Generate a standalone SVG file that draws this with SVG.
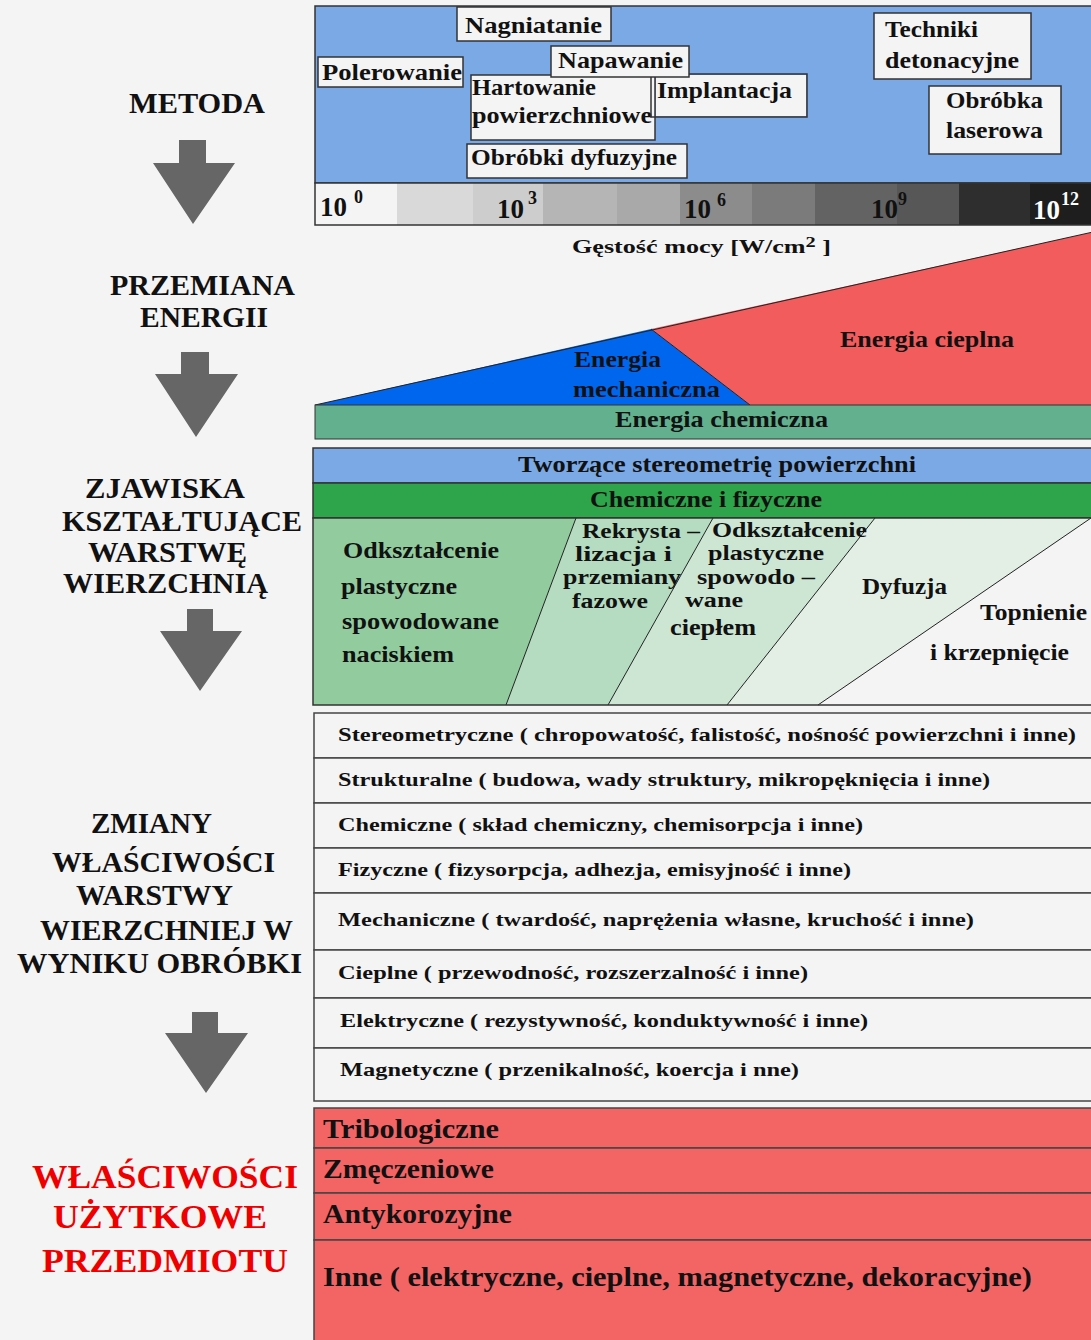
<svg xmlns="http://www.w3.org/2000/svg" width="1091" height="1340" viewBox="0 0 1091 1340" font-family="'Liberation Serif', Tinos, 'Times New Roman', serif">
<style>
text{font-family:"Liberation Serif",Tinos,"Times New Roman",serif;font-weight:bold;fill:#111}
.lbl{font-size:29px}
.red{font-size:34px;fill:#ee0000}
.m{font-size:24px}
.sc{font-size:27px}
.sup{font-size:18px}
.e{font-size:24px}
.z{font-size:23px}
.zs{font-size:20px}
.p{font-size:19px}
.r{font-size:27px}
.box{fill:#f4f4f4;stroke:#333;stroke-width:1.5}
.row{fill:#f4f4f4;stroke:#444;stroke-width:1.5}
.rrow{fill:#f36565;stroke:#444;stroke-width:1.5}
.arr{fill:#666}
.ln{stroke:#222;stroke-width:1;fill:none}
</style>
<rect width="1091" height="1340" fill="#f4f4f4"/>

<g id="left-labels">
<text class="lbl" x="129" y="113" textLength="136" lengthAdjust="spacingAndGlyphs">METODA</text>
<text class="lbl" x="110" y="295" textLength="185" lengthAdjust="spacingAndGlyphs">PRZEMIANA</text>
<text class="lbl" x="140" y="327" textLength="128" lengthAdjust="spacingAndGlyphs">ENERGII</text>
<text class="lbl" x="85" y="498" textLength="160" lengthAdjust="spacingAndGlyphs">ZJAWISKA</text>
<text class="lbl" x="62" y="531" textLength="240" lengthAdjust="spacingAndGlyphs">KSZTAŁTUJĄCE</text>
<text class="lbl" x="88" y="562" textLength="159" lengthAdjust="spacingAndGlyphs">WARSTWĘ</text>
<text class="lbl" x="63" y="593" textLength="205" lengthAdjust="spacingAndGlyphs">WIERZCHNIĄ</text>
<text class="lbl" x="91" y="833" textLength="121" lengthAdjust="spacingAndGlyphs">ZMIANY</text>
<text class="lbl" x="52" y="872" textLength="223" lengthAdjust="spacingAndGlyphs">WŁAŚCIWOŚCI</text>
<text class="lbl" x="76" y="905" textLength="157" lengthAdjust="spacingAndGlyphs">WARSTWY</text>
<text class="lbl" x="40" y="940" textLength="253" lengthAdjust="spacingAndGlyphs">WIERZCHNIEJ W</text>
<text class="lbl" x="17" y="973" textLength="285" lengthAdjust="spacingAndGlyphs">WYNIKU OBRÓBKI</text>
<text class="red" x="32" y="1188" textLength="266" lengthAdjust="spacingAndGlyphs">WŁAŚCIWOŚCI</text>
<text class="red" x="53" y="1228" textLength="214" lengthAdjust="spacingAndGlyphs">UŻYTKOWE</text>
<text class="red" x="42" y="1272" textLength="246" lengthAdjust="spacingAndGlyphs">PRZEDMIOTU</text>
</g>

<g id="connectors">
<polygon class="arr" points="179,140 206,140 206,163 235,163 193,224 153,163 179,163"/>
<polygon class="arr" points="181,352 209,352 209,374 238,374 196,437 155,374 181,374"/>
<polygon class="arr" points="187,609 213,609 213,631 242,631 200,691 160,631 187,631"/>
<polygon class="arr" points="192,1012 218,1012 218,1033 248,1033 206,1093 165,1033 192,1033"/>
</g>

<g id="metoda">
<rect x="315" y="6" width="778" height="177" fill="#7aa9e6" stroke="#333" stroke-width="1.5"/>
<g id="m-nagniatanie"><rect class="box" x="457" y="7" width="154" height="34"/><text class="m" x="465" y="33" textLength="137" lengthAdjust="spacingAndGlyphs">Nagniatanie</text></g>
<g id="m-polerowanie"><rect class="box" x="318" y="57" width="145" height="30"/><text class="m" x="322" y="80" textLength="140" lengthAdjust="spacingAndGlyphs">Polerowanie</text></g>
<g id="m-hartowanie"><rect class="box" x="471" y="75" width="184" height="65"/><text class="m" x="472" y="95" textLength="124" lengthAdjust="spacingAndGlyphs">Hartowanie</text><text class="m" x="472" y="123" textLength="180" lengthAdjust="spacingAndGlyphs">powierzchniowe</text></g>
<g id="m-implantacja"><rect class="box" x="651" y="74" width="156" height="43" style="fill:none"/><rect x="656" y="75" width="150" height="41" fill="#f4f4f4"/><text class="m" x="657" y="98" textLength="135" lengthAdjust="spacingAndGlyphs">Implantacja</text></g>
<g id="m-napawanie"><rect class="box" x="551" y="46" width="138" height="31"/><text class="m" x="558" y="68" textLength="125" lengthAdjust="spacingAndGlyphs">Napawanie</text></g>
<g id="m-dyfuzyjne"><rect class="box" x="467" y="144" width="220" height="34"/><text class="m" x="471" y="165" textLength="206" lengthAdjust="spacingAndGlyphs">Obróbki dyfuzyjne</text></g>
<g id="m-techniki"><rect class="box" x="874" y="13" width="157" height="66"/><text class="m" x="885" y="37" textLength="93" lengthAdjust="spacingAndGlyphs">Techniki</text><text class="m" x="885" y="68" textLength="134" lengthAdjust="spacingAndGlyphs">detonacyjne</text></g>
<g id="m-laser"><rect class="box" x="929" y="86" width="132" height="68"/><text class="m" x="946" y="108" textLength="97" lengthAdjust="spacingAndGlyphs">Obróbka</text><text class="m" x="946" y="138" textLength="97" lengthAdjust="spacingAndGlyphs">laserowa</text></g>
</g>

<g id="scale">
<rect x="315" y="183" width="82" height="42" fill="#f4f4f4"/>
<rect x="397" y="183" width="76" height="42" fill="#d9d9d9"/>
<rect x="473" y="183" width="70" height="42" fill="#cdcdcd"/>
<rect x="543" y="183" width="74" height="42" fill="#b5b5b5"/>
<rect x="617" y="183" width="63" height="42" fill="#a9a9a9"/>
<rect x="680" y="183" width="72" height="42" fill="#8c8c8c"/>
<rect x="752" y="183" width="63" height="42" fill="#7b7b7b"/>
<rect x="815" y="183" width="82" height="42" fill="#636363"/>
<rect x="897" y="183" width="62" height="42" fill="#575757"/>
<rect x="959" y="183" width="71" height="42" fill="#2e2e2e"/>
<rect x="1030" y="183" width="63" height="42" fill="#1e1e1e"/>
<rect x="315" y="183" width="778" height="42" fill="none" stroke="#333" stroke-width="1.5"/>
<text class="sc" x="320" y="216">10</text><text class="sup" x="354" y="203">0</text>
<text class="sc" x="497" y="218">10</text><text class="sup" x="528" y="204">3</text>
<text class="sc" x="684" y="218">10</text><text class="sup" x="717" y="206">6</text>
<text class="sc" x="871" y="218">10</text><text class="sup" x="898" y="205">9</text>
<text class="sc" x="1033" y="219" style="fill:#fff">10</text><text class="sup" x="1061" y="205" style="fill:#fff">12</text>
<text x="572" y="253" style="font-size:18px" textLength="259" lengthAdjust="spacingAndGlyphs">Gęstość mocy [W/cm<tspan dy="-6" style="font-size:14px">2</tspan><tspan dy="6"> ]</tspan></text>
</g>

<g id="energia">
<polygon points="651,329 1093,232 1093,405 750,405" fill="#f25c5c"/>
<polygon points="315,405 651,329 750,405" fill="#0066ee"/>
<polyline class="ln" points="315,405 1093,232"/>
<line class="ln" x1="651" y1="329" x2="750" y2="405"/>
<rect x="315" y="405" width="778" height="34" fill="#62b08e" stroke="#333" stroke-width="1"/>
<text class="e" x="574" y="367" textLength="87" lengthAdjust="spacingAndGlyphs">Energia</text>
<text class="e" x="573" y="397" textLength="147" lengthAdjust="spacingAndGlyphs">mechaniczna</text>
<text class="e" x="840" y="347" textLength="174" lengthAdjust="spacingAndGlyphs">Energia cieplna</text>
<text class="e" x="615" y="427" textLength="213" lengthAdjust="spacingAndGlyphs">Energia chemiczna</text>
</g>

<g id="zjawiska">
<rect x="313" y="448" width="780" height="35" fill="#7aa9e6" stroke="#333" stroke-width="1.5"/>
<rect x="313" y="483" width="780" height="35" fill="#2ea44b" stroke="#333" stroke-width="1.5"/>
<rect x="313" y="518" width="780" height="187" fill="#f4f4f4"/>
<polygon points="313,518 576,518 506,705 313,705" fill="#92cc9e"/>
<polygon points="576,518 713,518 608,705 506,705" fill="#b5dcc0"/>
<polygon points="713,518 875,518 727,705 608,705" fill="#cde6d3"/>
<polygon points="875,518 1091,518 818,705 727,705" fill="#e3eee5"/>
<line class="ln" x1="576" y1="518" x2="506" y2="705"/>
<line class="ln" x1="713" y1="518" x2="608" y2="705"/>
<line class="ln" x1="875" y1="518" x2="727" y2="705"/>
<line class="ln" x1="1091" y1="518" x2="818" y2="705"/>
<rect x="313" y="518" width="780" height="187" fill="none" stroke="#333" stroke-width="1.5"/>
<text class="z" x="518" y="472" textLength="398" lengthAdjust="spacingAndGlyphs">Tworzące stereometrię powierzchni</text>
<text class="z" x="590" y="507" textLength="232" lengthAdjust="spacingAndGlyphs">Chemiczne i fizyczne</text>
<text class="z" x="343" y="558" textLength="156" lengthAdjust="spacingAndGlyphs">Odkształcenie</text>
<text class="z" x="341" y="594" textLength="116" lengthAdjust="spacingAndGlyphs">plastyczne</text>
<text class="z" x="342" y="629" textLength="157" lengthAdjust="spacingAndGlyphs">spowodowane</text>
<text class="z" x="342" y="662" textLength="112" lengthAdjust="spacingAndGlyphs">naciskiem</text>
<text class="zs" x="582" y="538" textLength="118" lengthAdjust="spacingAndGlyphs">Rekrysta –</text>
<text class="zs" x="575" y="561" textLength="97" lengthAdjust="spacingAndGlyphs">lizacja  i</text>
<text class="zs" x="563" y="584" textLength="118" lengthAdjust="spacingAndGlyphs">przemiany</text>
<text class="zs" x="572" y="608" textLength="76" lengthAdjust="spacingAndGlyphs">fazowe</text>
<text class="zs" x="712" y="537" textLength="155" lengthAdjust="spacingAndGlyphs">Odkształcenie</text>
<text class="zs" x="708" y="560" textLength="116" lengthAdjust="spacingAndGlyphs">plastyczne</text>
<text class="zs" x="697" y="584" textLength="118" lengthAdjust="spacingAndGlyphs">spowodo –</text>
<text class="zs" x="685" y="607" textLength="58" lengthAdjust="spacingAndGlyphs">wane</text>
<text class="z" x="670" y="635" textLength="86" lengthAdjust="spacingAndGlyphs">ciepłem</text>
<text class="z" x="862" y="594" textLength="85" lengthAdjust="spacingAndGlyphs">Dyfuzja</text>
<text class="z" x="980" y="620" textLength="107" lengthAdjust="spacingAndGlyphs">Topnienie</text>
<text class="z" x="930" y="660" textLength="139" lengthAdjust="spacingAndGlyphs">i krzepnięcie</text>
</g>

<g id="zmiany">
<rect class="row" x="314" y="713" width="779" height="45"/>
<rect class="row" x="314" y="758" width="779" height="45"/>
<rect class="row" x="314" y="803" width="779" height="45"/>
<rect class="row" x="314" y="848" width="779" height="45"/>
<rect class="row" x="314" y="893" width="779" height="57"/>
<rect class="row" x="314" y="950" width="779" height="48"/>
<rect class="row" x="314" y="998" width="779" height="50"/>
<rect class="row" x="314" y="1048" width="779" height="53"/>
<text class="p" x="338" y="741" textLength="738" lengthAdjust="spacingAndGlyphs">Stereometryczne ( chropowatość, falistość, nośność powierzchni i inne)</text>
<text class="p" x="338" y="786" textLength="652" lengthAdjust="spacingAndGlyphs">Strukturalne ( budowa, wady struktury, mikropęknięcia i inne)</text>
<text class="p" x="338" y="831" textLength="525" lengthAdjust="spacingAndGlyphs">Chemiczne ( skład chemiczny, chemisorpcja i inne)</text>
<text class="p" x="338" y="876" textLength="513" lengthAdjust="spacingAndGlyphs">Fizyczne ( fizysorpcja, adhezja, emisyjność i inne)</text>
<text class="p" x="338" y="926" textLength="636" lengthAdjust="spacingAndGlyphs">Mechaniczne ( twardość, naprężenia własne, kruchość i inne)</text>
<text class="p" x="338" y="979" textLength="470" lengthAdjust="spacingAndGlyphs">Cieplne ( przewodność, rozszerzalność i inne)</text>
<text class="p" x="340" y="1027" textLength="528" lengthAdjust="spacingAndGlyphs">Elektryczne ( rezystywność, konduktywność i inne)</text>
<text class="p" x="340" y="1076" textLength="459" lengthAdjust="spacingAndGlyphs">Magnetyczne ( przenikalność, koercja i nne)</text>
</g>

<g id="uzytkowe">
<rect class="rrow" x="314" y="1108" width="779" height="40"/>
<rect class="rrow" x="314" y="1148" width="779" height="45"/>
<rect class="rrow" x="314" y="1193" width="779" height="47"/>
<rect class="rrow" x="314" y="1240" width="779" height="102"/>
<text class="r" x="323" y="1138" textLength="176" lengthAdjust="spacingAndGlyphs">Tribologiczne</text>
<text class="r" x="323" y="1178" textLength="171" lengthAdjust="spacingAndGlyphs">Zmęczeniowe</text>
<text class="r" x="323" y="1223" textLength="189" lengthAdjust="spacingAndGlyphs">Antykorozyjne</text>
<text class="r" x="323" y="1286" textLength="709" lengthAdjust="spacingAndGlyphs">Inne ( elektryczne, cieplne, magnetyczne, dekoracyjne)</text>
</g>
</svg>
